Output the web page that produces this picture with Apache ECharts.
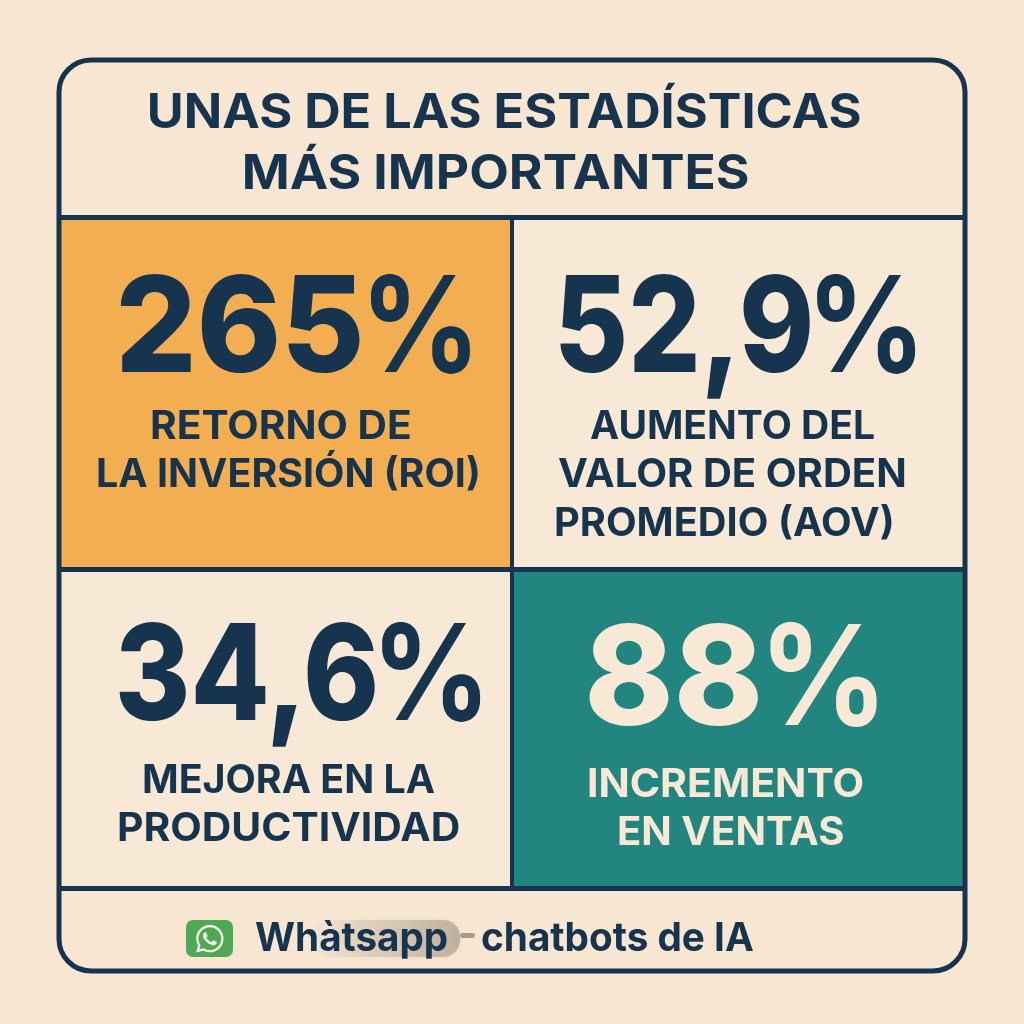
<!DOCTYPE html>
<html>
<head>
<meta charset="utf-8">
<style>
  html, body { margin: 0; padding: 0; background: #f7e6d2; }
  #chart { width: 1024px; height: 1024px; }
</style>
</head>
<body>
<div id="chart"></div>
<script src="https://cdn.jsdelivr.net/npm/echarts@6/dist/echarts.min.js"></script>
<script>
// Texts of the card
const titleLines = ['UNAS DE LAS ESTADÍSTICAS', 'MÁS IMPORTANTES'];
const statValues = ['265%', '52,9%', '34,6%', '88%'];
const statLabels = [
    ['RETORNO DE', 'LA INVERSIÓN (ROI)'],
    ['AUMENTO DEL', 'VALOR DE ORDEN', 'PROMEDIO (AOV)'],
    ['MEJORA EN LA', 'PRODUCTIVIDAD'],
    ['INCREMENTO', 'EN VENTAS']
];
const footerWords = ['Whàtsapp', 'chatbots de IA'];

const NAVY = '#16344d', CREAM = '#f7e6d2', ORANGE = '#f4ae52', TEAL = '#23857f', PALE = '#f8e9d6';
const FONT = 'Inter, "Noto Sans", sans-serif';
const WA_ICON = 'M17.472 14.382c-.297-.149-1.758-.867-2.03-.967-.273-.099-.471-.148-.67.15-.197.297-.767.966-.94 1.164-.173.199-.347.223-.644.075-.297-.15-1.255-.463-2.39-1.475-.883-.788-1.48-1.761-1.653-2.059-.173-.297-.018-.458.13-.606.134-.133.298-.347.446-.52.149-.174.198-.298.298-.497.099-.198.05-.371-.025-.52-.075-.149-.669-1.612-.916-2.207-.242-.579-.487-.5-.669-.51-.173-.008-.371-.01-.57-.01-.198 0-.52.074-.792.372-.272.297-1.04 1.016-1.04 2.479 0 1.462 1.065 2.875 1.213 3.074.149.198 2.096 3.2 5.077 4.487.709.306 1.262.489 1.694.625.712.227 1.36.195 1.871.118.571-.085 1.758-.719 2.006-1.413.248-.694.248-1.289.173-1.413-.074-.124-.272-.198-.57-.347z' +
    'M12.051 21.785h-.004a9.87 9.87 0 0 1-5.031-1.378l-.361-.214-3.741.982.998-3.648-.235-.374a9.86 9.86 0 0 1-1.51-5.26c.001-5.45 4.436-9.884 9.888-9.884 2.64 0 5.122 1.03 6.988 2.898a9.825 9.825 0 0 1 2.893 6.994c-.003 5.45-4.437 9.884-9.885 9.884z' +
    'M20.464 3.488A11.815 11.815 0 0 0 12.05 0C5.495 0 .16 5.335.157 11.892c0 2.096.547 4.142 1.588 5.945L.057 24l6.305-1.654a11.882 11.882 0 0 0 5.683 1.448h.005c6.554 0 11.89-5.335 11.893-11.893a11.821 11.821 0 0 0-3.48-8.413z';

echarts.graphic.registerShape('whatsapp', echarts.graphic.extendPath(WA_ICON));

const measureCtx = document.createElement('canvas').getContext('2d');

// text stretched so its ink runs from left to right, y is the vertical middle of the line
function fitText(str, left, right, y, size, weight, fill) {
    const font = `${weight} ${size}px ${FONT}`;
    measureCtx.font = font;
    const m = measureCtx.measureText(str);
    const inkLeft = m.actualBoundingBoxLeft;
    const scale = (right - left) / (inkLeft + m.actualBoundingBoxRight);
    return {
        type: 'text',
        x: left + inkLeft * scale,
        y: y,
        scaleX: scale,
        style: { text: str, x: 0, y: 0, font: font, fill: fill, align: 'left', verticalAlign: 'middle' }
    };
}

// the % sign is fitted apart from the digits
function statText(value, left, numRight, pctLeft, right, y, size, fill) {
    els.push(fitText(value.slice(0, -1), left, numRight, y, size, 800, fill));
    els.push(fitText('%', pctLeft, right, y, size, 700, fill));
}

function rect(x, y, w, h, fill) {
    return { type: 'rect', shape: { x, y, width: w, height: h }, style: { fill } };
}

const els = [];

// tiles
els.push(rect(60, 217, 452, 352, ORANGE));
els.push(rect(512, 217, 452, 352, PALE));
els.push(rect(60, 569, 452, 319, PALE));
els.push(rect(512, 569, 452, 319, TEAL));

// grid lines and outer frame
els.push(rect(60, 215, 904, 5, NAVY));
els.push(rect(60, 567, 904, 5, NAVY));
els.push(rect(60, 886, 904, 5, NAVY));
els.push(rect(510, 217, 4, 671, NAVY));
els.push({
    type: 'rect',
    shape: { x: 59, y: 60, width: 906, height: 911, r: 32 },
    style: { fill: 'none', stroke: NAVY, lineWidth: 5 }
});

// title
els.push(fitText(titleLines[0], 150, 860, 114, 48, 700, NAVY));
els.push(fitText(titleLines[1], 245, 748, 175, 48, 700, NAVY));

// big numbers
statText(statValues[0], 120, 360, 371, 470, 332, 133, NAVY);
statText(statValues[1], 560, 810, 817, 915, 332, 133, NAVY);
statText(statValues[2], 119, 375, 382, 480, 680, 133, NAVY);
statText(statValues[3], 589, 758, 770, 877, 683, 139, PALE);

// labels under the numbers
els.push(fitText(statLabels[0][0], 152, 410, 427, 39, 700, NAVY));
els.push(fitText(statLabels[0][1], 98, 478, 475, 39, 700, NAVY));
els.push(fitText(statLabels[1][0], 590, 874, 427, 39, 700, NAVY));
els.push(fitText(statLabels[1][1], 558, 905, 475, 39, 700, NAVY));
els.push(fitText(statLabels[1][2], 556, 892, 524, 39, 700, NAVY));
els.push(fitText(statLabels[2][0], 144, 435, 781, 39, 700, NAVY));
els.push(fitText(statLabels[2][1], 119, 459, 829, 39, 700, NAVY));
els.push(fitText(statLabels[3][0], 589, 863, 785, 39, 700, PALE));
els.push(fitText(statLabels[3][1], 619, 843, 833, 39, 700, PALE));

// footer: icon, smudge behind the first word, texts
els.push({
    type: 'rect',
    shape: { x: 186, y: 920, width: 47, height: 37, r: 7 },
    style: { fill: '#4fa855' }
});
els.push({
    type: 'whatsapp',
    x: 196, y: 925,
    scaleX: 1.15, scaleY: 1.15,
    style: { fill: '#f6f4e8' }
});
els.push({
    type: 'rect',
    shape: { x: 310, y: 920, width: 150, height: 37, r: 17 },
    style: {
        fill: new echarts.graphic.LinearGradient(0, 0, 1, 0, [
            { offset: 0, color: 'rgba(200,188,170,0)' },
            { offset: 0.55, color: 'rgba(200,188,170,0.6)' },
            { offset: 1, color: 'rgba(190,176,158,1)' }
        ]),
        shadowBlur: 4,
        shadowColor: 'rgba(190,176,158,0.4)'
    }
});
els.push({
    type: 'rect',
    shape: { x: 460, y: 933, width: 15, height: 5, r: 2.5 },
    style: { fill: '#a89c8c' }
});
els.push(fitText(footerWords[0], 255, 447, 939, 40, 700, NAVY));
els.push(fitText(footerWords[1], 482, 753, 939, 40, 700, NAVY));

const chart = echarts.init(document.getElementById('chart'));
chart.setOption({
    backgroundColor: CREAM,
    animation: false,
    graphic: { elements: els }
});
</script>
</body>
</html>
